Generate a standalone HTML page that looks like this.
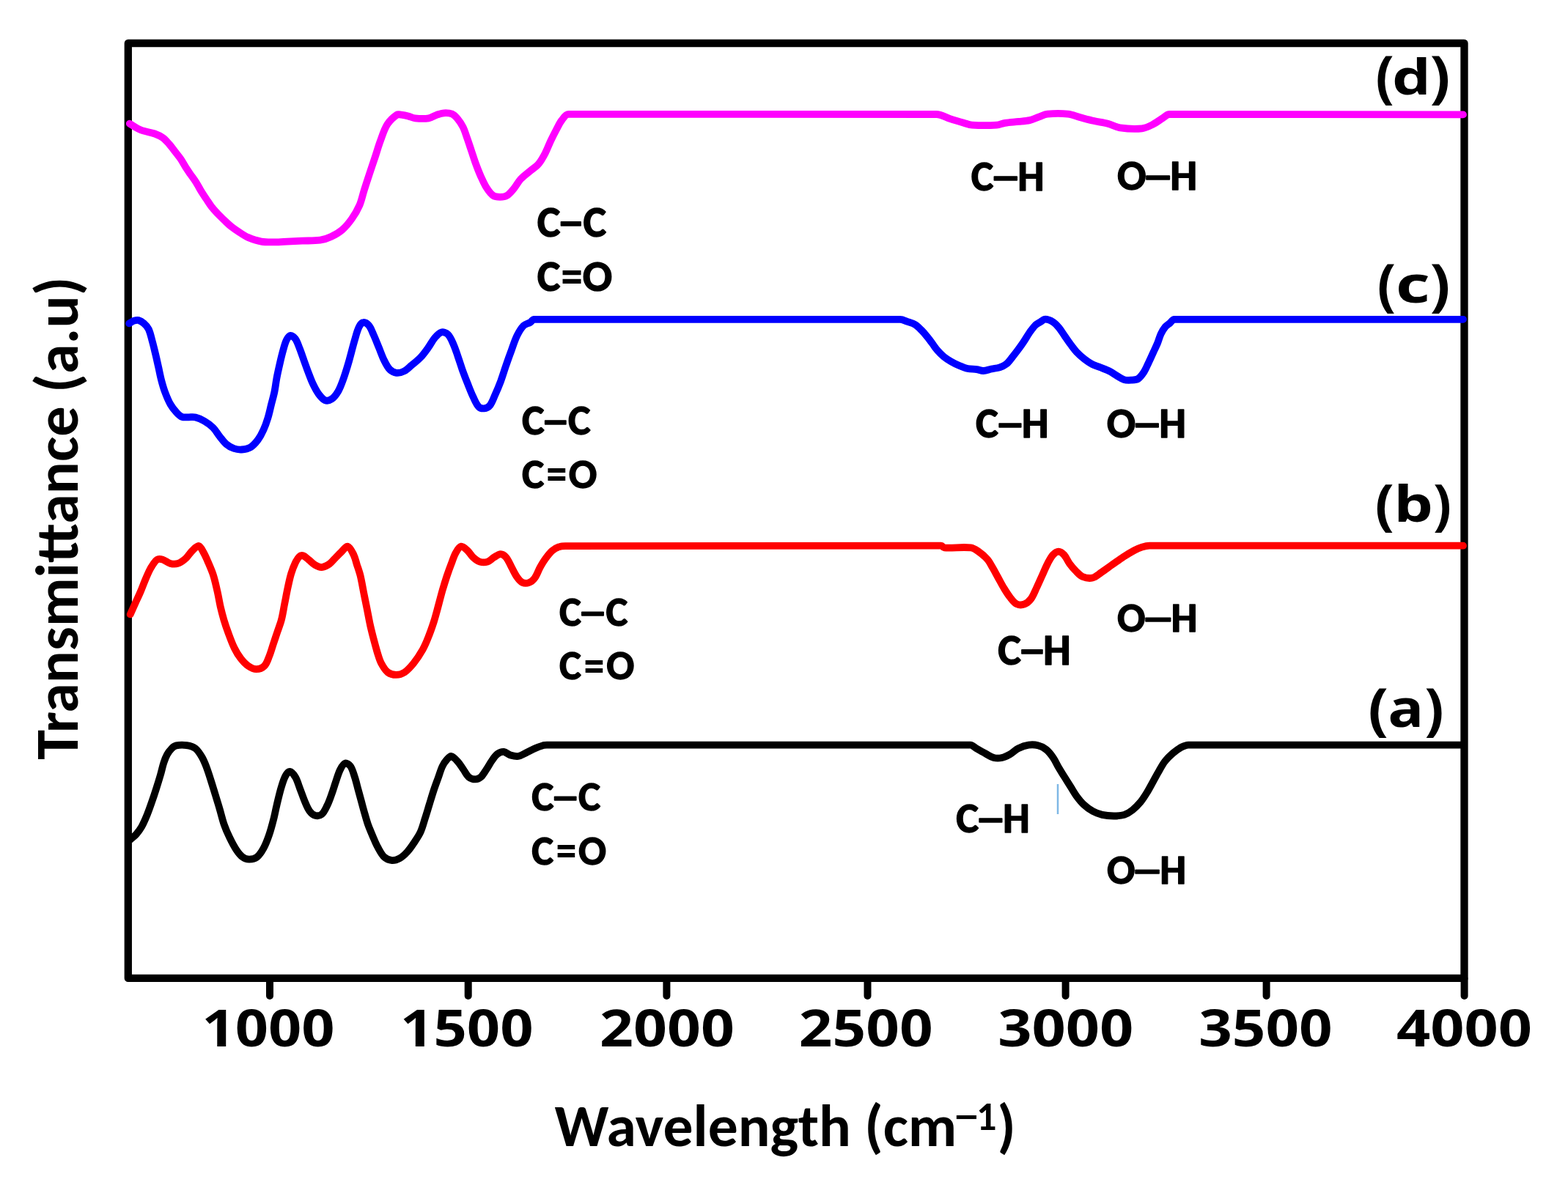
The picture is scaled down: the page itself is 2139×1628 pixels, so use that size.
<!DOCTYPE html>
<html><head><meta charset="utf-8"><title>FTIR spectra</title>
<style>html,body{margin:0;padding:0;background:#fff}svg{display:block}</style>
</head><body>
<svg xmlns="http://www.w3.org/2000/svg" width="2139" height="1628" viewBox="0 0 2139 1628">
<rect width="2139" height="1628" fill="#fff"/>
<rect x="174.8" y="59" width="1822.7" height="1275.9" fill="none" stroke="#000" stroke-width="10.3" stroke-linejoin="round"/>
<g stroke="#000" stroke-width="10" stroke-linecap="round"><line x1="368" y1="1336" x2="368" y2="1359"/><line x1="638.7" y1="1336" x2="638.7" y2="1359"/><line x1="909.4" y1="1336" x2="909.4" y2="1359"/><line x1="1183.5" y1="1336" x2="1183.5" y2="1359"/><line x1="1453.6" y1="1336" x2="1453.6" y2="1359"/><line x1="1727.6" y1="1336" x2="1727.6" y2="1359"/><line x1="1997.6" y1="1336" x2="1997.6" y2="1359"/></g>
<g fill="none" stroke-width="9.8" stroke-linecap="round" stroke-linejoin="round">
<path stroke="#ff00ff" d="M176.8,168.7 C181.8,171.5 186.5,175.1 191.8,177.2 C197.9,179.7 204.8,180.3 211.1,182.5 C214.9,183.9 218.8,185.6 222.1,188.0 C225.5,190.4 228.2,193.8 231.0,196.9 C233.8,200.0 236.1,203.5 238.7,206.8 C241.3,210.1 244.0,213.3 246.4,216.8 C248.8,220.4 250.8,224.2 253.1,227.9 C255.2,231.2 257.5,234.5 259.7,237.8 C262.3,241.5 265.1,245.1 267.5,248.9 C270.2,253.2 272.5,257.8 275.2,262.1 C277.3,265.5 279.6,268.8 281.8,272.1 C284.0,275.4 286.1,278.9 288.5,282.0 C291.2,285.5 294.3,288.8 297.3,292.0 C300.2,295.0 303.2,297.9 306.2,300.8 C309.4,303.8 312.6,307.0 316.1,309.7 C319.6,312.5 323.4,315.0 327.2,317.4 C330.8,319.7 334.3,322.3 338.2,323.9 C344.0,326.3 350.2,328.5 356.4,329.6 C362.5,330.7 368.8,330.4 375.0,330.4 C380.6,330.4 386.3,329.9 391.9,329.6 C398.8,329.3 405.6,328.9 412.5,328.6 C420.6,328.3 428.8,328.8 436.8,327.7 C441.9,327.0 447.0,325.2 451.7,323.0 C457.0,320.5 462.3,317.5 466.7,313.7 C471.7,309.4 476.0,304.1 479.8,298.7 C483.9,292.9 487.7,286.6 490.5,280.0 C493.3,273.5 494.6,266.2 496.8,259.4 C499.2,251.9 501.6,244.5 504.1,237.0 C506.6,229.5 509.1,222.1 511.6,214.6 C514.1,207.1 516.2,199.5 519.0,192.1 C521.8,184.5 524.1,176.4 528.4,169.7 C531.6,164.6 536.7,159.9 541.5,156.6 C543.1,155.5 545.5,156.4 547.5,156.6 C550.6,157.0 553.7,157.6 556.8,158.4 C560.0,159.2 563.0,161.0 566.2,161.3 C572.3,161.9 578.9,162.2 584.9,161.3 C588.8,160.7 592.3,157.9 596.1,156.6 C599.1,155.6 602.3,154.5 605.5,154.3 C609.2,154.1 613.4,154.2 616.7,155.6 C619.6,156.8 622.1,159.7 624.2,162.2 C627.0,165.6 629.6,169.4 631.6,173.4 C634.0,178.2 635.4,183.4 637.2,188.4 C639.2,194.0 641.0,199.6 642.9,205.2 C644.8,210.8 646.5,216.5 648.5,222.0 C650.8,228.3 653.2,234.6 655.9,240.7 C658.2,245.8 660.4,251.0 663.4,255.7 C666.0,259.8 669.0,264.3 672.8,266.9 C675.3,268.6 679.0,268.8 682.1,268.8 C685.2,268.8 688.9,268.5 691.5,266.9 C695.1,264.7 698.0,261.0 700.8,257.6 C704.2,253.5 706.6,248.4 710.2,244.5 C714.1,240.3 718.9,237.0 723.3,233.3 C727.0,230.1 731.4,227.6 734.5,223.9 C738.2,219.5 741.1,214.1 743.8,208.9 C746.7,203.5 748.7,197.6 751.3,192.1 C753.7,187.1 756.2,182.1 758.8,177.2 C761.2,172.8 763.2,168.0 766.3,164.1 C768.8,160.9 771.5,155.9 775.6,155.9 L1277.4,156.0 C1284.0,156.0 1289.8,160.2 1296.1,162.2 C1302.3,164.2 1308.5,166.0 1314.8,167.8 C1318.5,168.8 1322.2,170.4 1326.0,170.6 C1337.1,171.3 1348.6,171.3 1359.7,170.6 C1363.5,170.4 1367.1,168.4 1370.9,167.8 C1377.1,166.8 1383.4,166.6 1389.6,165.9 C1394.6,165.4 1399.7,165.2 1404.6,164.1 C1409.1,163.1 1413.3,160.9 1417.7,159.4 C1421.4,158.1 1425.0,156.0 1428.9,155.6 C1438.1,154.7 1447.7,154.6 1456.9,155.6 C1462.7,156.2 1468.1,158.8 1473.8,160.3 C1480.0,161.9 1486.2,163.6 1492.5,165.0 C1498.7,166.4 1505.1,167.1 1511.2,168.7 C1516.9,170.2 1522.2,173.5 1528.0,174.3 C1537.8,175.7 1548.2,176.3 1557.9,175.3 C1563.1,174.8 1568.2,172.1 1572.9,169.7 C1577.5,167.4 1581.6,164.0 1586.0,161.3 C1589.0,159.4 1591.7,156.0 1595.3,156.0 L1996.0,156.4"/>
<path stroke="#0000ff" d="M176.2,441.4 C178.5,440.2 180.6,438.5 183.0,437.7 C184.8,437.1 187.1,436.5 188.9,437.0 C191.6,437.7 194.3,439.5 196.4,441.4 C198.9,443.6 201.3,446.1 202.7,449.1 C205.2,454.4 206.3,460.5 207.9,466.3 C209.5,472.0 210.8,477.8 212.2,483.5 C213.6,489.2 214.8,495.0 216.1,500.7 C217.4,506.4 218.4,512.2 219.9,517.9 C221.4,523.7 223.0,529.5 225.1,535.1 C227.3,541.0 229.7,546.9 232.8,552.3 C234.9,556.0 237.7,559.5 240.6,562.6 C242.8,565.0 245.4,567.7 248.3,568.9 C250.9,569.9 254.1,569.2 257.0,569.3 C260.2,569.4 263.6,568.7 266.7,569.5 C270.8,570.5 275.0,572.4 278.7,574.6 C283.0,577.1 287.2,580.1 290.7,583.6 C294.2,587.1 296.5,591.6 299.6,595.5 C302.5,599.1 305.1,603.1 308.6,606.0 C311.6,608.6 315.4,610.7 319.1,612.0 C322.4,613.2 326.1,613.7 329.6,613.5 C333.6,613.2 338.1,612.5 341.5,610.5 C345.6,608.0 349.1,603.9 352.0,600.0 C355.1,595.9 357.4,591.3 359.5,586.6 C361.9,581.3 363.8,575.7 365.5,570.1 C367.3,564.2 368.5,558.2 370.0,552.2 C371.5,546.2 373.3,540.3 374.5,534.2 C375.7,528.3 376.3,522.2 377.4,516.3 C378.7,509.3 380.3,502.3 381.9,495.3 C383.3,489.3 384.7,483.3 386.4,477.4 C387.7,472.8 388.8,468.1 390.9,463.9 C392.1,461.6 394.1,458.1 396.1,457.9 C398.1,457.6 401.4,460.3 402.9,462.4 C405.6,466.3 407.1,471.3 408.9,475.9 C411.0,481.3 412.8,486.8 414.8,492.3 C416.8,497.8 418.7,503.3 420.8,508.8 C422.7,513.8 424.5,518.9 426.8,523.7 C429.0,528.3 431.3,533.1 434.3,537.2 C436.8,540.6 439.8,544.7 443.3,546.2 C445.8,547.2 449.8,546.3 452.2,544.7 C455.8,542.3 458.9,538.1 461.2,534.2 C464.4,528.7 466.5,522.4 468.7,516.3 C471.5,508.4 473.9,500.3 476.2,492.3 C478.9,482.9 481.1,473.3 483.9,463.9 C485.7,457.8 487.1,451.4 489.9,445.9 C491.1,443.4 493.7,440.1 495.9,439.9 C498.2,439.6 501.6,442.2 503.4,444.4 C506.1,447.7 507.6,452.3 509.4,456.4 C512.1,462.3 514.4,468.4 516.9,474.4 C519.4,480.4 521.4,486.5 524.3,492.3 C526.4,496.5 528.6,501.1 531.8,504.3 C534.1,506.6 537.7,508.4 540.8,508.8 C544.2,509.2 548.2,508.1 551.3,506.5 C555.1,504.6 558.3,501.1 561.7,498.3 C565.8,494.9 570.1,491.7 573.7,487.8 C577.6,483.7 580.9,479.0 584.2,474.4 C587.4,470.0 589.7,465.0 593.2,460.9 C595.7,458.0 598.8,454.2 602.1,453.4 C604.8,452.7 609.0,454.3 611.1,456.4 C614.5,459.8 616.5,465.2 618.6,469.9 C621.0,475.2 622.7,480.8 624.6,486.3 C626.7,492.3 628.5,498.3 630.6,504.3 C632.9,510.8 635.4,517.3 638.0,523.7 C640.4,529.7 642.7,535.8 645.5,541.7 C647.7,546.3 649.7,551.6 653.0,555.1 C654.7,556.9 658.1,557.6 660.5,557.4 C663.1,557.2 666.3,555.8 668.0,553.7 C671.3,549.5 673.1,543.8 675.4,538.7 C678.1,532.8 680.6,526.8 682.9,520.7 C685.6,513.3 687.8,505.7 690.4,498.3 C692.8,491.3 695.3,484.3 697.9,477.4 C700.3,470.9 702.3,464.1 705.4,457.9 C707.8,453.1 710.6,448.1 714.3,444.4 C716.6,442.1 720.4,441.6 723.3,439.9 C725.2,438.8 726.3,435.8 728.5,435.8 L1228.0,435.8 C1231.5,435.8 1234.8,437.8 1238.1,439.0 C1241.5,440.2 1245.2,441.0 1248.2,442.9 C1251.5,445.0 1254.4,448.0 1257.2,450.8 C1260.0,453.6 1262.6,456.7 1265.1,459.8 C1267.4,462.7 1269.6,465.7 1271.8,468.7 C1274.0,471.7 1276.0,474.9 1278.5,477.7 C1281.3,480.9 1284.2,484.0 1287.5,486.7 C1290.6,489.3 1294.1,491.4 1297.6,493.4 C1301.2,495.5 1305.0,497.4 1308.8,499.0 C1312.5,500.6 1316.2,502.2 1320.1,503.0 C1324.1,503.9 1328.3,503.5 1332.4,504.1 C1335.4,504.5 1338.4,506.1 1341.4,506.0 C1345.1,505.9 1348.9,504.3 1352.6,503.5 C1356.3,502.7 1360.2,502.5 1363.8,501.3 C1367.0,500.3 1370.2,498.9 1372.8,496.8 C1375.8,494.4 1378.1,490.9 1380.6,487.8 C1383.3,484.5 1386.0,481.1 1388.5,477.7 C1391.2,474.0 1393.9,470.3 1396.4,466.5 C1399.1,462.5 1401.4,458.2 1404.2,454.2 C1406.7,450.7 1409.1,447.1 1412.1,444.1 C1414.0,442.2 1416.5,441.0 1418.8,439.6 C1421.1,438.2 1423.5,435.7 1426.0,435.7 C1429.5,435.7 1433.6,437.6 1436.8,439.6 C1439.9,441.5 1442.4,444.6 1444.7,447.4 C1447.6,450.9 1449.9,454.9 1452.5,458.6 C1455.1,462.4 1457.6,466.2 1460.4,469.9 C1463.3,473.7 1466.1,477.6 1469.4,481.1 C1472.5,484.4 1475.9,487.3 1479.5,490.1 C1482.7,492.6 1486.0,494.9 1489.6,496.8 C1493.1,498.7 1497.1,499.8 1500.8,501.3 C1505.3,503.1 1509.9,504.7 1514.2,506.9 C1517.4,508.5 1520.2,510.7 1523.2,512.5 C1526.5,514.4 1529.7,517.0 1533.3,518.1 C1536.4,519.1 1540.1,518.9 1543.4,518.7 C1546.4,518.5 1550.0,518.5 1552.4,517.0 C1555.6,515.0 1558.1,511.3 1560.3,508.0 C1563.0,503.9 1564.8,499.1 1567.0,494.6 C1569.3,489.8 1571.5,484.9 1573.7,480.0 C1575.6,475.9 1577.6,471.8 1579.3,467.6 C1581.0,463.6 1581.9,459.2 1583.8,455.3 C1585.3,452.1 1587.2,449.0 1589.4,446.3 C1591.3,444.1 1593.9,442.6 1596.1,440.7 C1598.0,439.1 1599.3,435.8 1601.8,435.8 L1996.0,435.8"/>
<path stroke="#ff0000" d="M177.7,838.4 C179.9,833.4 182.2,828.5 184.4,823.5 C186.9,818.0 189.5,812.6 191.9,807.0 C194.0,802.1 195.8,796.9 197.9,792.0 C200.3,786.5 202.4,780.8 205.4,775.6 C207.9,771.3 210.7,766.3 214.4,763.6 C216.2,762.3 219.6,762.9 221.9,763.6 C225.5,764.7 228.6,768.0 232.3,768.9 C235.6,769.7 239.6,769.9 242.8,768.9 C246.6,767.7 250.2,764.8 253.3,762.1 C256.7,759.1 258.9,754.7 262.2,751.6 C264.9,749.0 268.6,744.6 271.2,745.0 C273.8,745.4 275.9,750.8 277.7,754.0 C280.3,758.6 282.3,763.5 284.4,768.3 C286.8,773.8 289.2,779.2 291.0,784.9 C293.3,792.1 294.8,799.6 296.5,807.0 C298.2,814.4 299.3,821.8 301.0,829.2 C302.3,834.8 303.8,840.3 305.4,845.8 C307.1,851.4 308.9,856.9 310.9,862.3 C313.7,869.8 316.3,877.4 319.8,884.5 C322.2,889.5 325.2,894.4 328.6,898.8 C331.5,902.5 334.8,906.2 338.6,908.8 C341.8,911.0 345.9,913.2 349.6,913.2 C353.3,913.2 358.1,911.4 360.7,908.8 C364.0,905.5 365.4,900.1 367.3,895.5 C369.5,890.1 371.0,884.4 372.8,878.9 C374.7,873.4 376.5,867.8 378.4,862.3 C380.2,856.8 382.5,851.4 383.9,845.8 C385.8,838.5 386.8,831.0 388.3,823.6 C389.8,816.2 391.1,808.8 392.7,801.5 C394.1,795.2 395.3,788.9 397.2,782.7 C398.7,777.8 400.5,772.9 402.7,768.3 C404.2,765.2 405.9,761.9 408.2,759.7 C409.4,758.5 411.8,757.7 413.4,758.2 C416.0,759.0 418.4,761.7 420.8,763.6 C423.9,766.0 426.5,769.2 429.8,771.1 C432.5,772.7 435.9,774.3 438.8,774.1 C442.4,773.8 446.2,771.7 449.3,769.6 C452.7,767.2 455.2,763.6 458.2,760.6 C460.7,758.1 463.1,755.5 465.7,753.1 C468.5,750.5 472.0,745.1 474.5,745.7 C477.6,746.5 480.4,753.1 482.5,757.2 C484.6,761.5 485.5,766.3 487.0,770.9 C488.6,775.8 490.4,780.7 491.6,785.7 C493.4,793.2 494.6,800.8 496.1,808.4 C497.6,816.0 499.2,823.5 500.7,831.1 C502.2,838.7 503.5,846.3 505.2,853.8 C506.9,861.4 508.9,869.0 510.9,876.6 C512.2,881.5 513.5,886.4 515.0,891.2 C516.5,895.9 517.7,900.7 520.0,905.0 C522.4,909.5 525.2,914.5 529.1,917.5 C532.1,919.8 536.7,920.9 540.5,920.9 C544.3,920.9 548.6,919.6 551.8,917.5 C556.6,914.3 560.6,909.6 564.3,905.0 C568.9,899.2 573.0,892.8 576.7,886.3 C579.7,881.1 582.0,875.4 584.2,869.8 C587.0,862.9 589.4,855.9 591.7,848.9 C593.9,842.0 595.7,834.9 597.6,827.9 C599.6,820.4 601.5,812.9 603.6,805.5 C605.5,799.0 607.5,792.5 609.6,786.1 C611.5,780.6 613.5,775.1 615.6,769.6 C617.5,764.6 619.0,759.2 621.6,754.6 C623.5,751.3 626.2,746.2 629.1,745.7 C631.7,745.2 635.4,749.2 638.0,751.6 C640.9,754.2 642.6,758.0 645.5,760.6 C648.1,763.0 651.2,765.6 654.5,766.6 C657.7,767.6 661.8,767.6 665.0,766.6 C668.3,765.6 670.8,762.4 673.9,760.6 C676.8,758.9 680.0,756.1 682.9,756.1 C685.5,756.1 688.6,758.4 690.4,760.6 C693.6,764.4 695.4,769.6 697.9,774.1 C700.4,778.6 702.4,783.4 705.4,787.6 C707.4,790.4 709.9,793.7 712.8,795.0 C715.3,796.1 719.1,796.0 721.8,795.0 C724.6,794.0 727.5,791.5 729.3,789.0 C732.5,784.6 734.1,779.0 736.8,774.1 C739.1,770.0 741.5,765.9 744.3,762.1 C747.0,758.4 749.8,754.6 753.2,751.6 C755.8,749.3 759.0,747.5 762.2,746.4 C765.0,745.4 768.2,745.2 771.2,745.2 L1284.0,744.7 C1285.6,744.7 1286.4,747.3 1288.0,747.4 C1299.9,748.2 1312.5,746.1 1324.3,747.4 C1328.1,747.8 1331.6,750.4 1334.8,752.6 C1339.1,755.6 1343.4,759.1 1346.8,763.1 C1349.9,766.6 1351.9,771.0 1354.3,775.1 C1356.9,779.5 1359.2,784.0 1361.7,788.5 C1364.2,793.0 1366.5,797.6 1369.2,802.0 C1372.0,806.6 1374.8,811.3 1378.2,815.5 C1380.8,818.8 1383.7,822.8 1387.2,824.4 C1390.1,825.7 1394.6,825.6 1397.6,824.4 C1401.0,823.1 1404.3,820.1 1406.6,817.0 C1409.8,812.6 1411.7,807.0 1414.1,802.0 C1416.7,796.5 1419.1,791.0 1421.6,785.5 C1424.1,780.0 1426.3,774.4 1429.1,769.1 C1431.3,764.9 1433.4,760.5 1436.5,757.1 C1438.4,755.0 1441.5,752.6 1444.0,752.6 C1446.5,752.6 1449.6,755.0 1451.5,757.1 C1454.6,760.5 1456.2,765.3 1459.0,769.1 C1461.7,772.8 1464.8,776.4 1468.0,779.6 C1470.7,782.3 1473.5,785.6 1476.9,787.0 C1480.9,788.6 1486.2,789.5 1490.4,788.5 C1494.7,787.5 1498.5,783.7 1502.4,781.1 C1507.5,777.7 1512.3,774.1 1517.3,770.6 C1522.3,767.1 1527.2,763.4 1532.3,760.1 C1537.2,756.9 1542.2,753.8 1547.3,751.1 C1550.6,749.3 1554.1,747.7 1557.7,746.6 C1561.1,745.6 1564.6,744.7 1568.2,744.7 L1996.0,744.7"/>
<path stroke="#000" stroke-linecap="butt" d="M177.0,1146.5 C180.0,1143.7 183.3,1141.3 186.0,1138.2 C188.8,1135.0 191.3,1131.5 193.4,1127.8 C196.3,1122.5 198.6,1116.9 200.9,1111.3 C203.1,1105.9 205.0,1100.4 206.9,1094.9 C209.0,1088.9 211.0,1082.9 212.9,1076.9 C215.0,1070.5 217.0,1064.0 218.9,1057.5 C220.5,1051.9 221.7,1046.1 223.5,1040.6 C224.7,1036.8 226.1,1033.0 228.0,1029.6 C229.6,1026.7 231.7,1023.9 234.0,1021.6 C235.8,1019.8 238.1,1017.9 240.5,1017.4 C245.0,1016.4 250.2,1016.4 254.8,1017.1 C258.9,1017.7 263.5,1019.0 266.7,1021.5 C270.5,1024.5 273.2,1029.2 275.7,1033.5 C278.2,1037.7 279.9,1042.4 281.7,1047.0 C283.9,1052.9 285.8,1058.9 287.7,1064.9 C289.8,1071.4 291.7,1077.9 293.7,1084.4 C295.7,1090.9 297.7,1097.3 299.6,1103.8 C301.7,1110.8 303.2,1117.9 305.6,1124.8 C307.7,1130.9 310.3,1136.9 313.1,1142.7 C315.8,1148.3 318.6,1154.0 322.1,1159.2 C324.6,1163.0 327.5,1167.0 331.1,1169.7 C333.5,1171.5 337.0,1172.6 340.0,1172.6 C343.5,1172.6 347.8,1171.8 350.5,1169.7 C354.3,1166.8 357.1,1162.0 359.5,1157.7 C362.6,1152.0 364.9,1145.8 367.0,1139.7 C369.4,1132.9 371.2,1125.8 373.0,1118.8 C374.7,1112.3 375.8,1105.8 377.4,1099.3 C379.3,1091.3 381.1,1083.3 383.4,1075.4 C385.1,1069.8 386.7,1063.9 389.4,1058.9 C390.7,1056.5 393.4,1052.8 395.4,1053.0 C397.9,1053.3 401.1,1057.5 402.9,1060.4 C405.6,1064.9 407.0,1070.4 408.9,1075.4 C411.4,1081.9 413.6,1088.5 416.3,1094.9 C418.0,1099.0 419.7,1103.3 422.3,1106.8 C424.2,1109.3 427.0,1112.0 429.8,1112.8 C432.5,1113.5 436.6,1113.1 438.8,1111.3 C442.1,1108.6 444.2,1103.5 446.3,1099.3 C448.7,1094.5 450.4,1089.4 452.2,1084.4 C454.4,1078.5 456.1,1072.4 458.2,1066.4 C460.1,1060.9 461.6,1055.1 464.2,1050.0 C465.8,1046.9 468.1,1042.4 470.7,1041.6 C472.7,1040.9 476.5,1043.4 478.0,1045.5 C480.9,1049.6 482.2,1055.3 483.9,1060.4 C485.7,1065.8 486.9,1071.4 488.4,1076.9 C489.9,1082.4 491.4,1087.9 492.9,1093.4 C494.4,1098.9 495.8,1104.4 497.4,1109.8 C498.8,1114.8 500.2,1119.9 501.9,1124.8 C503.7,1129.8 505.8,1134.8 507.9,1139.7 C510.3,1145.2 512.5,1150.9 515.4,1156.2 C518.0,1160.9 520.5,1166.2 524.3,1169.7 C527.0,1172.2 531.2,1173.8 534.8,1174.1 C538.2,1174.3 542.2,1172.9 545.3,1171.2 C549.2,1169.0 552.7,1165.6 555.8,1162.2 C559.2,1158.6 562.0,1154.3 564.7,1150.2 C567.9,1145.3 571.3,1140.5 573.7,1135.2 C576.3,1129.5 577.8,1123.3 579.7,1117.3 C581.8,1110.8 583.7,1104.3 585.7,1097.8 C587.7,1091.3 589.6,1084.8 591.7,1078.4 C593.5,1072.9 595.6,1067.4 597.6,1061.9 C599.6,1056.4 601.1,1050.7 603.6,1045.5 C605.1,1042.3 607.2,1039.2 609.6,1036.5 C611.2,1034.7 613.6,1031.6 615.6,1032.0 C618.6,1032.6 622.0,1036.6 624.6,1039.5 C627.5,1042.6 629.6,1046.5 632.1,1050.0 C634.6,1053.5 636.4,1057.8 639.5,1060.4 C641.8,1062.3 645.5,1063.4 648.5,1063.4 C651.0,1063.4 654.1,1062.1 656.0,1060.4 C659.1,1057.7 661.1,1053.5 663.5,1050.0 C666.1,1046.1 668.3,1041.8 671.0,1038.0 C673.2,1034.8 675.4,1031.2 678.4,1029.0 C680.9,1027.2 684.5,1025.8 687.4,1026.0 C690.5,1026.3 693.2,1029.5 696.4,1030.5 C699.7,1031.5 703.5,1032.5 706.9,1032.0 C710.5,1031.5 713.9,1029.1 717.3,1027.5 C721.3,1025.6 725.2,1023.3 729.3,1021.5 C733.2,1019.8 737.2,1018.3 741.3,1017.1 C742.8,1016.7 744.4,1016.6 746.0,1016.6 L1323.8,1016.6 C1326.9,1016.6 1329.1,1019.8 1331.8,1021.3 C1336.0,1023.7 1340.2,1026.1 1344.5,1028.4 C1348.2,1030.4 1351.7,1033.0 1355.6,1034.0 C1359.1,1034.9 1363.2,1034.8 1366.8,1034.0 C1370.7,1033.2 1374.4,1031.2 1377.9,1029.2 C1381.8,1027.0 1385.0,1023.3 1389.0,1021.3 C1393.4,1019.1 1398.4,1017.3 1403.3,1016.6 C1407.4,1016.0 1412.0,1016.2 1416.0,1017.3 C1420.0,1018.3 1424.0,1020.3 1427.2,1022.9 C1430.9,1025.9 1434.0,1030.0 1436.7,1034.0 C1439.8,1038.5 1441.9,1043.6 1444.7,1048.3 C1447.2,1052.6 1450.0,1056.8 1452.6,1061.0 C1455.2,1065.2 1457.9,1069.5 1460.5,1073.7 C1463.2,1077.9 1465.6,1082.4 1468.5,1086.4 C1471.4,1090.3 1474.4,1094.3 1478.0,1097.6 C1481.9,1101.2 1486.2,1104.5 1490.8,1107.1 C1494.7,1109.3 1499.1,1110.9 1503.5,1111.9 C1508.7,1113.1 1514.1,1113.5 1519.4,1113.5 C1524.2,1113.5 1529.2,1113.3 1533.7,1111.9 C1537.7,1110.6 1541.5,1108.1 1544.8,1105.5 C1548.9,1102.3 1552.6,1098.4 1555.9,1094.4 C1559.5,1090.0 1562.5,1085.0 1565.5,1080.1 C1568.3,1075.5 1570.8,1070.6 1573.4,1065.8 C1576.1,1061.0 1578.6,1056.2 1581.4,1051.5 C1583.9,1047.2 1586.2,1042.7 1589.3,1038.8 C1592.6,1034.7 1596.4,1031.0 1600.4,1027.6 C1603.9,1024.6 1607.6,1021.8 1611.6,1019.7 C1614.5,1018.2 1617.8,1016.6 1621.1,1016.6 L1995.0,1016.6"/>
</g>
<line x1="1443" y1="1070" x2="1443" y2="1111" stroke="#7fb8e6" stroke-width="2.5"/>
<g fill="#000">
<text font-family='"Open Sans", "Segoe UI", "DejaVu Sans", sans-serif' font-weight="700"><tspan x="1876.5" y="131.9" font-size="76.67" textLength="25.3" lengthAdjust="spacingAndGlyphs">(</tspan><tspan x="1899.1" y="128.8" font-size="65.97" textLength="52.9" lengthAdjust="spacingAndGlyphs">d</tspan><tspan x="1950.6" y="131.9" font-size="76.67" textLength="27.9" lengthAdjust="spacingAndGlyphs">)</tspan></text>
<text font-family='"Open Sans", "Segoe UI", "DejaVu Sans", sans-serif' font-weight="700"><tspan x="1878.8" y="416.1" font-size="76.55" textLength="25.4" lengthAdjust="spacingAndGlyphs">(</tspan><tspan x="1904.0" y="413.0" font-size="69.38" textLength="46.9" lengthAdjust="spacingAndGlyphs">c</tspan><tspan x="1950.6" y="416.1" font-size="76.55" textLength="27.9" lengthAdjust="spacingAndGlyphs">)</tspan></text>
<text font-family='"Open Sans", "Segoe UI", "DejaVu Sans", sans-serif' font-weight="700"><tspan x="1875.8" y="714.6" font-size="75.29" textLength="26.1" lengthAdjust="spacingAndGlyphs">(</tspan><tspan x="1901.3" y="712.4" font-size="67.53" textLength="53.7" lengthAdjust="spacingAndGlyphs">b</tspan><tspan x="1955.0" y="714.6" font-size="75.29" textLength="25.0" lengthAdjust="spacingAndGlyphs">)</tspan></text>
<text font-family='"Open Sans", "Segoe UI", "DejaVu Sans", sans-serif' font-weight="700"><tspan x="1866.2" y="994.9" font-size="76.55" textLength="27.8" lengthAdjust="spacingAndGlyphs">(</tspan><tspan x="1893.2" y="992.4" font-size="72.39" textLength="49.1" lengthAdjust="spacingAndGlyphs">a</tspan><tspan x="1943.2" y="994.9" font-size="76.55" textLength="26.4" lengthAdjust="spacingAndGlyphs">)</tspan></text>
<text y="323.3" font-family='Carlito, Calibri, "Liberation Sans", sans-serif' font-weight="700" font-size="59.85" stroke="#000" stroke-width="1.3" stroke-linejoin="round"><tspan x="732.7">C</tspan><tspan x="760.1" textLength="37.6" lengthAdjust="spacingAndGlyphs">–</tspan><tspan x="795.4" y="323.3">C</tspan></text>
<text y="396.7" font-family='Carlito, Calibri, "Liberation Sans", sans-serif' font-weight="700" font-size="59.85" stroke="#000" stroke-width="1.3" stroke-linejoin="round"><tspan x="732.7">C</tspan><tspan x="765.2" y="399.8" font-size="69.72" stroke="none" textLength="29.6" lengthAdjust="spacingAndGlyphs">=</tspan><tspan x="794.7" y="396.7">O</tspan></text>
<text y="259.7" font-family='Carlito, Calibri, "Liberation Sans", sans-serif' font-weight="700" font-size="57.59" stroke="#000" stroke-width="1.3" stroke-linejoin="round"><tspan x="1324.7">C</tspan><tspan x="1350.2" textLength="43.1" lengthAdjust="spacingAndGlyphs">–</tspan><tspan x="1388.2" y="259.7">H</tspan></text>
<text y="258.8" font-family='Carlito, Calibri, "Liberation Sans", sans-serif' font-weight="700" font-size="58.65" stroke="#000" stroke-width="1.3" stroke-linejoin="round"><tspan x="1523.9">O</tspan><tspan x="1557.7" textLength="43.8" lengthAdjust="spacingAndGlyphs">–</tspan><tspan x="1596.3" y="258.8">H</tspan></text>
<text y="592.9" font-family='Carlito, Calibri, "Liberation Sans", sans-serif' font-weight="700" font-size="57.89" stroke="#000" stroke-width="1.3" stroke-linejoin="round"><tspan x="711.9">C</tspan><tspan x="738.0" textLength="39.6" lengthAdjust="spacingAndGlyphs">–</tspan><tspan x="775.1" y="592.9">C</tspan></text>
<text y="666.3" font-family='Carlito, Calibri, "Liberation Sans", sans-serif' font-weight="700" font-size="57.14" stroke="#000" stroke-width="1.3" stroke-linejoin="round"><tspan x="711.9">C</tspan><tspan x="745.3" y="669.3" font-size="66.57" stroke="none" textLength="28.2" lengthAdjust="spacingAndGlyphs">=</tspan><tspan x="775.8" y="666.3">O</tspan></text>
<text y="597.4" font-family='Carlito, Calibri, "Liberation Sans", sans-serif' font-weight="700" font-size="58.35" stroke="#000" stroke-width="1.3" stroke-linejoin="round"><tspan x="1331.1">C</tspan><tspan x="1357.2" textLength="41.4" lengthAdjust="spacingAndGlyphs">–</tspan><tspan x="1393.8" y="597.4">H</tspan></text>
<text y="597.4" font-family='Carlito, Calibri, "Liberation Sans", sans-serif' font-weight="700" font-size="58.35" stroke="#000" stroke-width="1.3" stroke-linejoin="round"><tspan x="1509.8">O</tspan><tspan x="1543.6" textLength="42.7" lengthAdjust="spacingAndGlyphs">–</tspan><tspan x="1581.3" y="597.4">H</tspan></text>
<text y="853.8" font-family='Carlito, Calibri, "Liberation Sans", sans-serif' font-weight="700" font-size="56.39" stroke="#000" stroke-width="1.3" stroke-linejoin="round"><tspan x="762.9">C</tspan><tspan x="788.1" textLength="41.0" lengthAdjust="spacingAndGlyphs">–</tspan><tspan x="826.4" y="853.8">C</tspan></text>
<text y="927.2" font-family='Carlito, Calibri, "Liberation Sans", sans-serif' font-weight="700" font-size="56.39" stroke="#000" stroke-width="1.3" stroke-linejoin="round"><tspan x="762.9">C</tspan><tspan x="796.5" y="930.1" font-size="65.70" stroke="none" textLength="27.9" lengthAdjust="spacingAndGlyphs">=</tspan><tspan x="827.2" y="927.2">O</tspan></text>
<text y="907.1" font-family='Carlito, Calibri, "Liberation Sans", sans-serif' font-weight="700" font-size="59.85" stroke="#000" stroke-width="1.3" stroke-linejoin="round"><tspan x="1361.2">C</tspan><tspan x="1388.3" textLength="39.4" lengthAdjust="spacingAndGlyphs">–</tspan><tspan x="1423.1" y="907.1">H</tspan></text>
<text y="861.8" font-family='Carlito, Calibri, "Liberation Sans", sans-serif' font-weight="700" font-size="56.99" stroke="#000" stroke-width="1.3" stroke-linejoin="round"><tspan x="1524.0">O</tspan><tspan x="1556.4" textLength="46.7" lengthAdjust="spacingAndGlyphs">–</tspan><tspan x="1597.6" y="861.8">H</tspan></text>
<text y="1106.1" font-family='Carlito, Calibri, "Liberation Sans", sans-serif' font-weight="700" font-size="56.99" stroke="#000" stroke-width="1.3" stroke-linejoin="round"><tspan x="725.2">C</tspan><tspan x="750.7" textLength="40.9" lengthAdjust="spacingAndGlyphs">–</tspan><tspan x="788.9" y="1106.1">C</tspan></text>
<text y="1179.5" font-family='Carlito, Calibri, "Liberation Sans", sans-serif' font-weight="700" font-size="56.39" stroke="#000" stroke-width="1.3" stroke-linejoin="round"><tspan x="725.2">C</tspan><tspan x="758.6" y="1182.4" font-size="65.70" stroke="none" textLength="27.9" lengthAdjust="spacingAndGlyphs">=</tspan><tspan x="789.1" y="1179.5">O</tspan></text>
<text y="1136.0" font-family='Carlito, Calibri, "Liberation Sans", sans-serif' font-weight="700" font-size="58.35" stroke="#000" stroke-width="1.3" stroke-linejoin="round"><tspan x="1304.2">C</tspan><tspan x="1330.1" textLength="42.8" lengthAdjust="spacingAndGlyphs">–</tspan><tspan x="1367.9" y="1136.0">H</tspan></text>
<text y="1205.5" font-family='Carlito, Calibri, "Liberation Sans", sans-serif' font-weight="700" font-size="56.99" stroke="#000" stroke-width="1.3" stroke-linejoin="round"><tspan x="1510.1">O</tspan><tspan x="1542.8" textLength="44.6" lengthAdjust="spacingAndGlyphs">–</tspan><tspan x="1582.2" y="1205.5">H</tspan></text>
<text x="275.5" y="1428.2" font-family='"Open Sans", "Segoe UI", "DejaVu Sans", sans-serif' font-size="69.86" textLength="181.1" lengthAdjust="spacingAndGlyphs" font-weight="700">1000</text>
<text x="546.0" y="1428.2" font-family='"Open Sans", "Segoe UI", "DejaVu Sans", sans-serif' font-size="69.86" textLength="181.7" lengthAdjust="spacingAndGlyphs" font-weight="700">1500</text>
<text x="818.0" y="1428.2" font-family='"Open Sans", "Segoe UI", "DejaVu Sans", sans-serif' font-size="69.86" textLength="183.9" lengthAdjust="spacingAndGlyphs" font-weight="700">2000</text>
<text x="1089.8" y="1428.2" font-family='"Open Sans", "Segoe UI", "DejaVu Sans", sans-serif' font-size="69.86" textLength="182.9" lengthAdjust="spacingAndGlyphs" font-weight="700">2500</text>
<text x="1361.2" y="1428.2" font-family='"Open Sans", "Segoe UI", "DejaVu Sans", sans-serif' font-size="69.86" textLength="185.2" lengthAdjust="spacingAndGlyphs" font-weight="700">3000</text>
<text x="1635.2" y="1428.2" font-family='"Open Sans", "Segoe UI", "DejaVu Sans", sans-serif' font-size="69.86" textLength="182.5" lengthAdjust="spacingAndGlyphs" font-weight="700">3500</text>
<text x="1904.9" y="1428.2" font-family='"Open Sans", "Segoe UI", "DejaVu Sans", sans-serif' font-size="69.86" textLength="185.1" lengthAdjust="spacingAndGlyphs" font-weight="700">4000</text>
<text x="756.4" y="1564.3" font-family='Carlito, Calibri, "Liberation Sans", sans-serif' font-size="80.50" textLength="548.9" lengthAdjust="spacingAndGlyphs" font-weight="700">Wavelength (cm</text>
<text x="1301.1" y="1541.6" font-family='Carlito, Calibri, "Liberation Sans", sans-serif' font-size="55.20" textLength="34.9" lengthAdjust="spacingAndGlyphs" font-weight="700">−</text>
<text x="1331.9" y="1541.6" font-family='Carlito, Calibri, "Liberation Sans", sans-serif' font-size="55.20" textLength="27.5" lengthAdjust="spacingAndGlyphs" font-weight="700">1</text>
<text x="1360.5" y="1564.3" font-family='Carlito, Calibri, "Liberation Sans", sans-serif' font-size="80.50" textLength="25.1" lengthAdjust="spacingAndGlyphs" font-weight="700">)</text>
<text transform="translate(106.4,1036.7) rotate(-90)" x="0" y="0" font-family='Carlito, Calibri, "Liberation Sans", sans-serif' font-weight="700" font-size="82.5" textLength="659.0" lengthAdjust="spacingAndGlyphs">Transmittance (a.u)</text>
</g>
</svg>
</body></html>
